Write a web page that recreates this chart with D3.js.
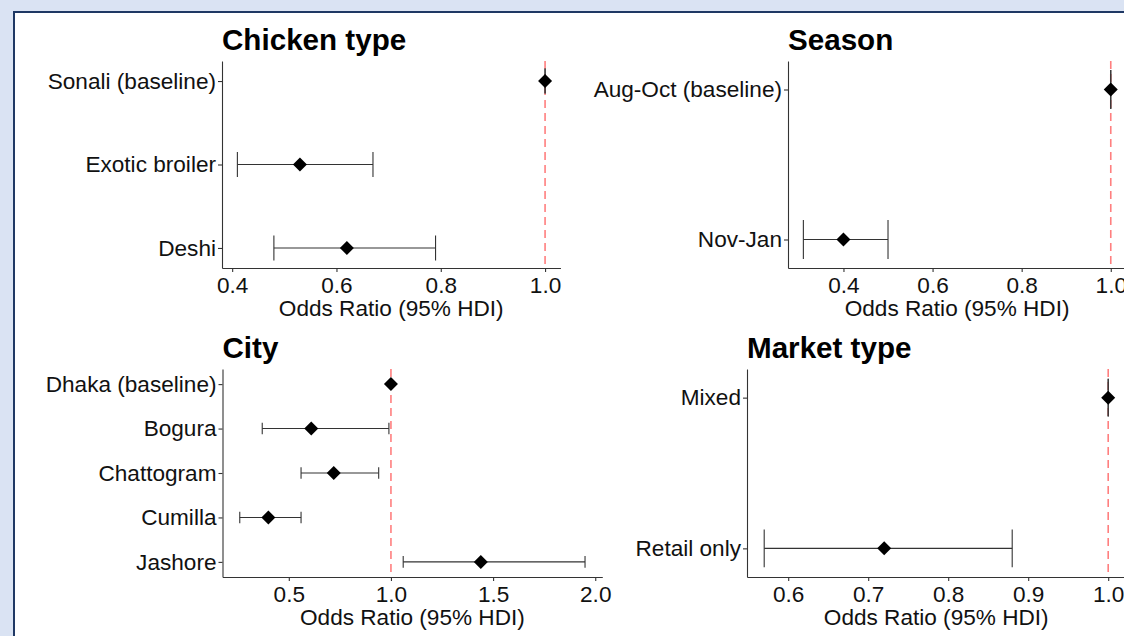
<!DOCTYPE html>
<html>
<head>
<meta charset="utf-8">
<script src="https://cdn.jsdelivr.net/npm/d3@7"></script>
<style>
  body { margin: 0; background: #dae3f3; }
  svg { display: block; font-family: "Liberation Sans", Arial, sans-serif; }
</style>
</head>
<body>
<svg id="chart" width="1124" height="636"></svg>
<script>
// ---- data ----
const chickenTypes = ["Sonali (baseline)", "Exotic broiler", "Deshi"]
const chickenOR = [1, 0.53, 0.62]
const chickenLower = [1, 0.41, 0.48]
const chickenUpper = [1, 0.67, 0.79]
const chickenTicks = [0.4, 0.6, 0.8, 1.0]

const seasons = ["Aug-Oct (baseline)", "Nov-Jan"]
const seasonOR = [1, 0.40]
const seasonLower = [1, 0.31]
const seasonUpper = [1, 0.50]
const seasonTicks = [0.4, 0.6, 0.8, 1.0]

const cities = ["Dhaka (baseline)", "Bogura", "Chattogram", "Cumilla", "Jashore"]
const cityOR = [1, 0.61, 0.72, 0.40, 1.44]
const cityLower = [1, 0.37, 0.56, 0.26, 1.06]
const cityUpper = [1, 0.99, 0.94, 0.56, 1.95]
const cityTicks = [0.5, 1.0, 1.5, 2.0]

const marketTypes = ["Mixed", "Retail only"]
const marketOR = [1, 0.72]
const marketLower = [1, 0.57]
const marketUpper = [1, 0.88]
const marketTicks = [0.6, 0.7, 0.8, 0.9, 1.0]

const refLine = 1
const axisTitle = "Odds Ratio (95% HDI)"

// ---- layout ----
const panels = [
    { title: "Chicken type", labels: chickenTypes, or: chickenOR, lo: chickenLower, hi: chickenUpper, ticks: chickenTicks,
      box: { left: 222, top: 61, bottom: 268 }, pxPerUnit: 521.5, cap: 0.3 },
    { title: "Season", labels: seasons, or: seasonOR, lo: seasonLower, hi: seasonUpper, ticks: seasonTicks,
      box: { left: 788, top: 61, bottom: 268 }, pxPerUnit: 445.5, cap: 0.26 },
    { title: "City", labels: cities, or: cityOR, lo: cityLower, hi: cityUpper, ticks: cityTicks,
      box: { left: 222.5, top: 369, bottom: 577 }, pxPerUnit: 204.3, cap: 0.26 },
    { title: "Market type", labels: marketTypes, or: marketOR, lo: marketLower, hi: marketUpper, ticks: marketTicks,
      box: { left: 747, top: 369, bottom: 577 }, pxPerUnit: 800, cap: 0.25 }
]

const svg = d3.select("#chart")

// frame
svg.append("rect").attr("width", 1124).attr("height", 636).attr("fill", "#dae3f3")
svg.append("rect")
    .attr("x", 14).attr("y", 12)
    .attr("width", 1200).attr("height", 700)
    .attr("fill", "#fff")
    .attr("stroke", "#1f3864")
    .attr("stroke-width", 2)

const fontSize = 22.6
const diamond = d3.symbol().type(d3.symbolSquare).size(98)

panels.forEach(p => {
    const n = p.labels.length
    // continuous x with ggplot-style 5% expansion
    const lo = d3.min(p.lo), hi = d3.max(p.hi)
    const pad = (hi - lo) * 0.05
    const dom = [lo - pad, hi + pad]
    const width = (dom[1] - dom[0]) * p.pxPerUnit
    const x = d3.scaleLinear().domain(dom).range([p.box.left, p.box.left + width])

    // discrete rows, first level on top
    const ypad = 0.05 * (n - 1) + 0.14
    const y = d3.scaleLinear().domain([-ypad, n - 1 + ypad]).range([p.box.top, p.box.bottom])
    const step = y(1) - y(0)

    const g = svg.append("g")

    // title
    g.append("text")
        .attr("x", p.box.left).attr("y", p.box.top - 11)
        .attr("font-size", 29.6).attr("font-weight", "bold")
        .attr("fill", "#000")
        .text(p.title)

    // reference line
    g.append("line")
        .attr("x1", x(refLine)).attr("x2", x(refLine))
        .attr("y1", p.box.top).attr("y2", p.box.bottom)
        .attr("stroke", "#ff7f7f").attr("stroke-width", 1.6)
        .attr("stroke-dasharray", "8,5")

    const rows = d3.range(n)

    // error bars
    const eb = g.append("g").attr("stroke", "#333").attr("stroke-width", 1.1)
    eb.selectAll(".h").data(rows).enter().append("line")
        .attr("x1", i => x(p.lo[i])).attr("x2", i => x(p.hi[i]))
        .attr("y1", i => y(i)).attr("y2", i => y(i))
    eb.selectAll(".cl").data(rows).enter().append("line")
        .attr("x1", i => x(p.lo[i])).attr("x2", i => x(p.lo[i]))
        .attr("y1", i => y(i) - step * p.cap / 2).attr("y2", i => y(i) + step * p.cap / 2)
    eb.selectAll(".cu").data(rows).enter().append("line")
        .attr("x1", i => x(p.hi[i])).attr("x2", i => x(p.hi[i]))
        .attr("y1", i => y(i) - step * p.cap / 2).attr("y2", i => y(i) + step * p.cap / 2)

    // points
    g.selectAll(".pt").data(rows).enter().append("path")
        .attr("d", diamond)
        .attr("transform", i => "translate(" + x(p.or[i]) + "," + y(i) + ") rotate(45)")
        .attr("fill", "#000")

    // axes
    const xAxis = g.append("g")
        .attr("transform", "translate(0," + p.box.bottom + ")")
        .call(d3.axisBottom(x).tickValues(p.ticks).tickFormat(d3.format(".1f"))
            .tickSize(4).tickSizeOuter(0).tickPadding(5))
    const yAxis = g.append("g")
        .attr("transform", "translate(" + p.box.left + ",0)")
        .call(d3.axisLeft(y).tickValues(rows).tickFormat(i => p.labels[i])
            .tickSize(4).tickSizeOuter(0).tickPadding(2))

    ;[xAxis, yAxis].forEach(a => {
        a.attr("font-family", null).attr("font-size", null)
        a.select(".domain").attr("stroke", "#333").attr("stroke-width", 1.1)
        a.selectAll(".tick line").attr("stroke", "#333").attr("stroke-width", 1.1)
        a.selectAll(".tick text").attr("font-size", fontSize).attr("fill", "#111")
    })

    // axis title
    g.append("text")
        .attr("x", (x.range()[0] + x.range()[1]) / 2)
        .attr("y", p.box.bottom + 48)
        .attr("text-anchor", "middle")
        .attr("font-size", fontSize).attr("fill", "#111")
        .text(axisTitle)
})
</script>
</body>
</html>
